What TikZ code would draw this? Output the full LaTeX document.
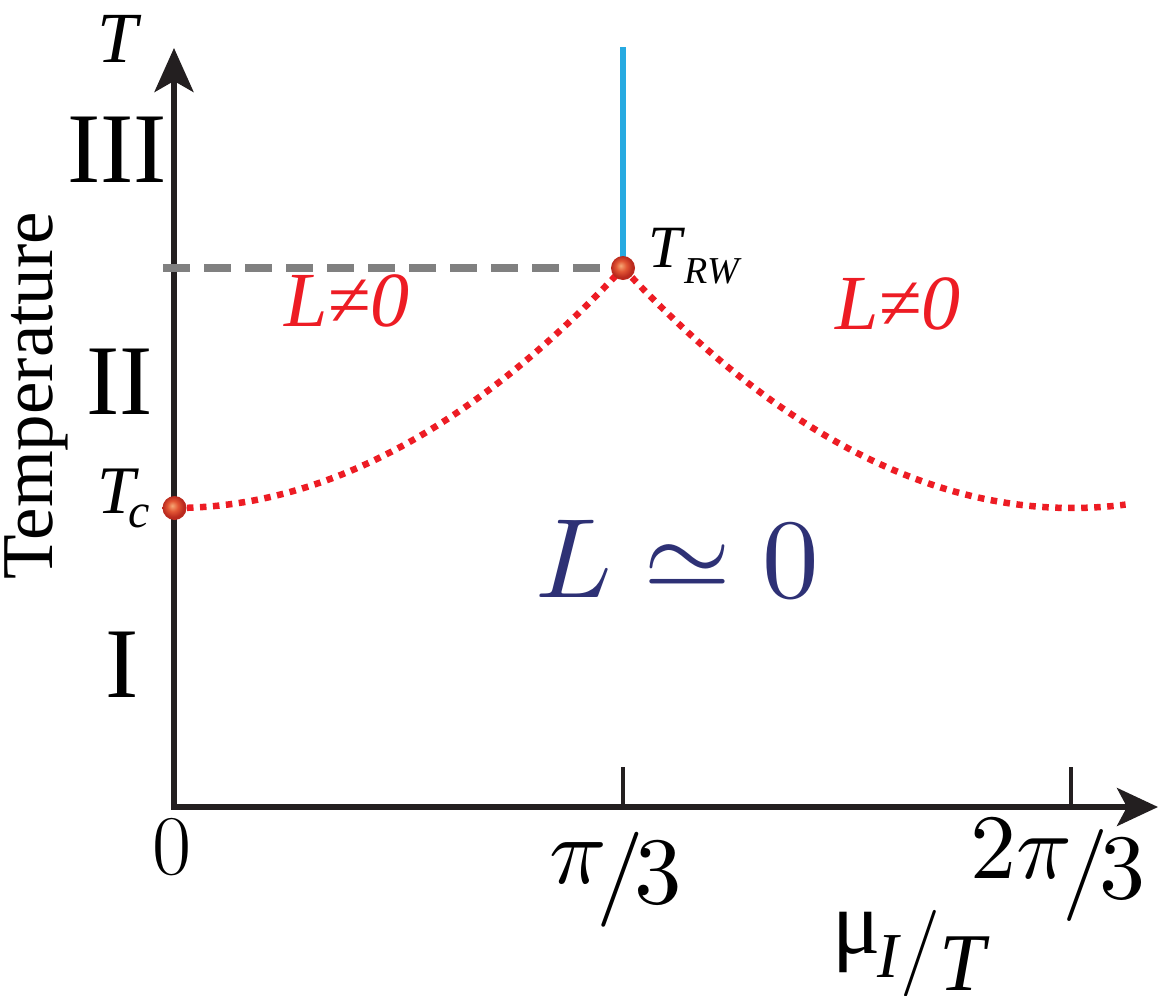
\documentclass[tikz,border=0pt]{standalone}
\usepackage{fontspec}
\usepackage{unicode-math}
\setmathfont{Latin Modern Math}
\newfontfamily\tms{Liberation Serif}
\usetikzlibrary{arrows.meta}
\definecolor{axiscol}{RGB}{35,31,32}
\definecolor{redc}{RGB}{237,28,36}
\definecolor{bluec}{RGB}{39,170,225}
\definecolor{grayc}{RGB}{128,128,128}
\definecolor{navyc}{RGB}{46,49,117}
\definecolor{ballhi}{RGB}{246,168,118}
\definecolor{ballmid}{RGB}{226,86,52}
\definecolor{balledge}{RGB}{186,42,30}
\pgfdeclareradialshading{ballsh}{\pgfpoint{-5bp}{5bp}}{color(0bp)=(ballhi); color(11bp)=(ballmid); color(22bp)=(balledge); color(50bp)=(balledge)}
\newcommand\putat[3]{\rlap{\hspace*{#1pt}\raisebox{#2pt}{#3}}}
\newcommand\fs[1]{\fontsize{#1}{#1}\selectfont}
\begin{document}
\begin{tikzpicture}[x=1pt,y=-1pt,
  axisline/.style={draw=axiscol, line width=5.5pt, line join=miter},
  tickline/.style={draw=axiscol, line width=4.5pt},
  blueline/.style={draw=bluec, line width=6pt},
  graydash/.style={draw=grayc, line width=8pt, dash pattern=on 27pt off 14pt},
  reddot/.style={draw=redc, line width=6.5pt, dash pattern=on 6.5pt off 6.5pt},
  ballnode/.style={circle, inner sep=0pt, minimum size=24pt, shading=ballsh},
  lbl/.style={inner sep=0pt, text=black},
  lne/.style={inner sep=0pt, text=redc, anchor=base, font=\tms\itshape\fontsize{78}{78}\selectfont}]
\useasboundingbox (0,0) rectangle (1160,996);
% key coordinates
\coordinate (O) at (174,807);
\coordinate (ytip) at (174,48);
\coordinate (xtip) at (1158,807);
\coordinate (t1a) at (623,767);
\coordinate (t1b) at (623,807);
\coordinate (t2a) at (1071,767);
\coordinate (t2b) at (1071,807);
\coordinate (tcc) at (174.5,508);
\coordinate (trwc) at (623,268);
\coordinate (bluetop) at (623,47);
\coordinate (dashstart) at (163,268);
% axes
\draw[axisline, {Stealth[length=44pt,width=39pt,inset=11pt]}-{Stealth[length=41pt,width=38pt,inset=10pt]}] (ytip) -- (O) -- (xtip);
\draw[tickline] (t1a) -- (t1b);
\draw[tickline] (t2a) -- (t2b);
% lines
\draw[blueline] (trwc) -- (bluetop);
\draw[graydash] (dashstart) -- (trwc);
\draw[reddot] plot[domain=0:1,samples=90] ({174+449*\x},{508-240*\x*\x});
\draw[reddot] plot[domain=0:1.12,samples=100] ({623+449*\x},{508-240*(1-\x)*(1-\x)});
% points
\node[ballnode] (Tc) at (tcc) {};
\node[ballnode] (TRW) at (trwc) {};
% labels
\node[lbl, anchor=base west] (Tlab) at (97,62) {\tms\itshape\fs{72}T};
\node[lbl, rotate=90, anchor=base] (templab) at (52,396) {\tms\fs{73}Temperature};
\node[lbl, anchor=base] (r3) at (117,182) {\tms\fs{100}III};
\node[lbl, anchor=base] (r2) at (120,414) {\tms\fs{100}II};
\node[lbl, anchor=base] (r1) at (122,697) {\tms\fs{100}I};
\node[lbl, anchor=base west] (Tclab) at (97,513) {\tms\itshape\putat{0}{0}{\fs{68}T}\putat{31}{-14}{\fs{48}c}};
\node[lbl, anchor=base west] (TRWlab) at (648,267) {\tms\itshape\putat{0}{0}{\fs{60}T}\putat{36}{-16}{\fs{38}RW}};
\node[lne] (lne1) at (347,326) {L≠0};
\node[lne] (lne2) at (898,329) {L≠0};
\node[lbl, anchor=base west, text=navyc] (lsim) at (535,597) {\fs{113}$L\simeq0$};
\node[lbl, anchor=base] (lab0) at (172,874) {\fs{85}0};
\node[lbl, anchor=base] (labpi) at (616,903) {\fs{95}$\raisebox{0.21em}{$\pi$}\mkern-1.8mu/\mkern-1.8mu3$};
\node[lbl, anchor=base] (lab2pi) at (1058,898) {\fs{92}$\raisebox{0.21em}{$2\pi$}\mkern-1.8mu/\mkern-1.8mu3$};
\node[lbl, anchor=base west] (mulab) at (832,990) {\putat{0}{37}{\tms\fs{90}μ}\putat{45}{13}{\tms\itshape\fs{64}I}\putat{68}{15}{\fs{87}/}\putat{107}{0}{\tms\itshape\fs{82}T}};
\end{tikzpicture}
\end{document}
